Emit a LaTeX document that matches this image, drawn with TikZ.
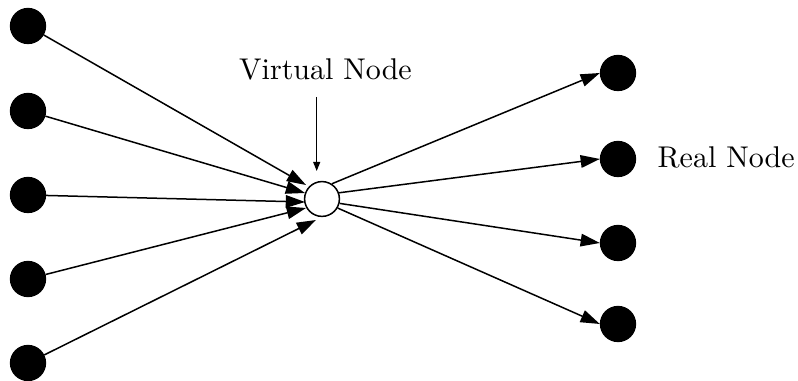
\documentclass[tikz,border=0pt]{standalone}
\usetikzlibrary{arrows.meta}
\begin{document}
\begin{tikzpicture}[x=0.3333pt,y=-0.3333pt,
  real/.style={circle,fill=black,draw=black,line width=0.5pt,minimum size=11.6pt,inner sep=0pt},
  virt/.style={circle,fill=white,draw=black,line width=0.5pt,minimum size=11.6pt,inner sep=0pt},
  edge/.style={line width=0.5pt,-{Triangle[length=6.4pt,width=4.2pt]}},
  pointer/.style={line width=0.4pt,-{Triangle[length=3pt,width=2.3pt]}},
  lbl/.style={inner sep=0pt,font=\normalsize}]
\useasboundingbox (0,0) rectangle (798,381);
% left (source) nodes
\node[real] (L1) at (28,26) {};
\node[real] (L2) at (28,111) {};
\node[real] (L3) at (28,195) {};
\node[real] (L4) at (28,279) {};
\node[real] (L5) at (28,363) {};
% virtual node
\node[virt] (vn) at (322,199) {};
% right (real) nodes
\node[real] (R1) at (618,73) {};
\node[real] (R2) at (618,159) {};
\node[real] (R3) at (618,243) {};
\node[real] (R4) at (618,324) {};
% arrow targets near the virtual node
\coordinate (t1) at (306,185);
\coordinate (t2) at (305,193);
\coordinate (t3) at (305,202);
\coordinate (t4) at (306,208);
\coordinate (t5) at (316,220);
\draw[edge] (L1) -- (t1);
\draw[edge] (L2) -- (t2);
\draw[edge] (L3) -- (t3);
\draw[edge] (L4) -- (t4);
\draw[edge] (L5) -- (t5);
% outgoing edges
\draw[edge] (vn.57) -- (R1.west);
\draw[edge] (vn.20) -- (R2.west);
\draw[edge] (vn.-14) -- (R3.west);
\draw[edge] (vn.-30) -- (R4.west);
% labels
\node[lbl,anchor=base] (vlabel) at (325.5,80) {Virtual Node};
\coordinate (pa) at (316.7,97);
\coordinate (pb) at (316.7,171);
\draw[pointer] (pa) -- (pb);
\node[lbl,anchor=base west] (rlabel) at (657,168) {Real Node};
\end{tikzpicture}
\end{document}
